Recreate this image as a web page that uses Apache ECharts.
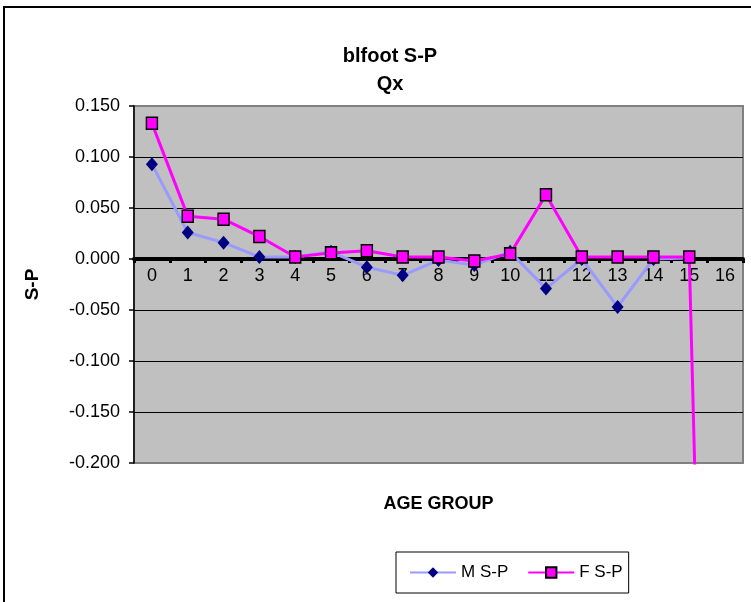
<!DOCTYPE html>
<html>
<head>
<meta charset="utf-8">
<script src="https://cdn.jsdelivr.net/npm/echarts@6/dist/echarts.min.js"></script>
<style>
  html, body { margin: 0; padding: 0; background: #fff; }
  #chart { width: 751px; height: 602px; }
</style>
</head>
<body>
<div id="chart"></div>
<script>
// Age groups along the x axis
const ageGroups = ['0', '1', '2', '3', '4', '5', '6', '7', '8', '9', '10', '11', '12', '13', '14', '15', '16'];
// Male S-P differences per age group (no value for the last group)
const maleSP = [0.093, 0.026, 0.016, 0.002, 0.002, 0.007, -0.008, -0.016, -0.001, -0.006, 0.007, -0.029, 0.000, -0.047, 0.000, 0.001, null];
// Female S-P differences per age group
const femaleSP = [0.133, 0.042, 0.039, 0.022, 0.002, 0.006, 0.008, 0.002, 0.002, -0.002, 0.005, 0.063, 0.002, 0.002, 0.002, 0.002, -1.35];
// Value axis range
const yMin = -0.2, yMax = 0.15, yStep = 0.05;

const FONT = '"Liberation Sans", Arial, sans-serif';
const GRID = { left: 134, right: 8, top: 106, bottom: 139 };
const chartEl = document.getElementById('chart');
const chart = echarts.init(chartEl, null, { renderer: 'canvas' });

// The category axis sits on the zero line; shift it up from the grid bottom.
const plotHeight = 602 - GRID.top - GRID.bottom;
const zeroShift = plotHeight * (0 - yMin) / (yMax - yMin);

chart.setOption({
  backgroundColor: '#ffffff',
  animation: false,
  title: {
    text: 'blfoot S-P\nQx',
    left: 385,
    top: 37,
    textAlign: 'center',
    textStyle: { fontFamily: FONT, fontSize: 20, fontWeight: 'bold', color: '#000', lineHeight: 28 }
  },
  graphic: [{
    type: 'rect',
    shape: { x: 4, y: 7, width: 800, height: 700 },
    style: { fill: 'none', stroke: '#000', lineWidth: 2 },
    silent: true
  }],
  grid: {
    left: GRID.left, right: GRID.right, top: GRID.top, bottom: GRID.bottom,
    outerBoundsMode: 'none',
    containLabel: false,
    show: true,
    backgroundColor: '#C0C0C0',
    borderColor: '#808080',
    borderWidth: 2
  },
  legend: {
    left: 396, top: 552,
    padding: [12, 6, 12, 13],
    itemGap: 19,
    itemWidth: 46, itemHeight: 13,
    borderColor: '#000', borderWidth: 1,
    textStyle: { fontFamily: FONT, fontSize: 17, color: '#000' },
    data: ['M S-P', 'F S-P']
  },
  xAxis: {
    type: 'category',
    data: ageGroups,
    boundaryGap: true,
    offset: -zeroShift,
    name: 'AGE GROUP',
    nameLocation: 'middle',
    nameGap: 236,
    nameMoveOverlap: false,
    nameTextStyle: { fontFamily: FONT, fontSize: 18, fontWeight: 'bold', color: '#000' },
    axisLine: { onZero: false, lineStyle: { color: '#000', width: 4 } },
    axisTick: { show: true, inside: false, length: 4, lineStyle: { color: '#000', width: 3 } },
    axisLabel: { fontFamily: FONT, fontSize: 18, color: '#000', margin: 8 },
    splitLine: { show: false },
    z: 2
  },
  yAxis: {
    type: 'value',
    min: yMin, max: yMax, interval: yStep,
    name: 'S-P',
    nameLocation: 'middle',
    nameRotate: 90,
    nameGap: 92,
    nameTextStyle: { fontFamily: FONT, fontSize: 19, fontWeight: 'bold', color: '#000' },
    axisLine: { show: true, lineStyle: { color: '#000', width: 1.5 } },
    axisTick: { show: true, inside: false, length: 5, lineStyle: { color: '#000', width: 1.5 } },
    axisLabel: {
      fontFamily: FONT, fontSize: 18, color: '#000', margin: 14,
      formatter: v => v.toFixed(3)
    },
    splitLine: {
      show: true,
      lineStyle: { color: ['#808080', '#000', '#000', '#000', '#000', '#000', '#000', '#808080'], width: 1.2 }
    }
  },
  series: [
    {
      name: 'M S-P',
      type: 'line',
      data: maleSP,
      symbol: 'diamond',
      symbolSize: [12, 14],
      itemStyle: { color: '#000080', borderColor: '#000080', borderWidth: 0 },
      lineStyle: { color: '#9999FF', width: 3 },
      connectNulls: false,
      z: 3
    },
    {
      name: 'F S-P',
      type: 'line',
      data: femaleSP,
      symbol: 'rect',
      symbolSize: [11, 12],
      itemStyle: { color: '#FF00FF', borderColor: '#000', borderWidth: 1.5 },
      lineStyle: { color: '#FF00FF', width: 3 },
      z: 4
    }
  ]
});
</script>
</body>
</html>
